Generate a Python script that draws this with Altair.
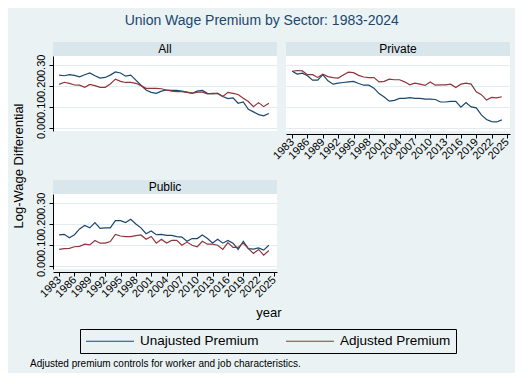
import altair as alt
import pandas as pd

years = list(range(1983, 2025))
sectors = ["All", "Private", "Public"]
series_names = ["Unajusted Premium", "Adjusted Premium"]

all_unadj = [0.251, 0.248, 0.253, 0.250, 0.243, 0.253, 0.261, 0.248, 0.237, 0.240,
             0.251, 0.266, 0.261, 0.246, 0.251, 0.227, 0.203, 0.180, 0.169, 0.164,
             0.175, 0.180, 0.178, 0.178, 0.175, 0.170, 0.165, 0.175, 0.178, 0.164,
             0.162, 0.164, 0.149, 0.139, 0.143, 0.117, 0.123, 0.088, 0.076, 0.063,
             0.057, 0.068]
all_adj = [0.207, 0.217, 0.212, 0.204, 0.203, 0.193, 0.207, 0.201, 0.193, 0.193,
           0.209, 0.232, 0.221, 0.216, 0.216, 0.212, 0.201, 0.188, 0.188, 0.188,
           0.186, 0.180, 0.175, 0.172, 0.172, 0.169, 0.164, 0.170, 0.170, 0.162,
           0.164, 0.164, 0.149, 0.169, 0.164, 0.159, 0.141, 0.125, 0.101, 0.120,
           0.101, 0.117]
priv_unadj = [0.269, 0.256, 0.260, 0.248, 0.227, 0.227, 0.253, 0.224, 0.208, 0.213,
              0.216, 0.219, 0.221, 0.211, 0.203, 0.203, 0.189, 0.163, 0.147, 0.127,
              0.131, 0.140, 0.140, 0.144, 0.140, 0.140, 0.137, 0.137, 0.135, 0.123,
              0.123, 0.126, 0.126, 0.098, 0.120, 0.100, 0.095, 0.062, 0.040, 0.030,
              0.028, 0.038]
priv_adj = [0.269, 0.273, 0.271, 0.253, 0.253, 0.240, 0.255, 0.244, 0.239, 0.237,
            0.252, 0.265, 0.263, 0.250, 0.242, 0.239, 0.239, 0.219, 0.221, 0.232,
            0.229, 0.229, 0.219, 0.205, 0.213, 0.208, 0.202, 0.218, 0.203, 0.205,
            0.205, 0.208, 0.192, 0.208, 0.213, 0.208, 0.172, 0.158, 0.132, 0.145,
            0.143, 0.148]
pub_unadj = [0.147, 0.150, 0.134, 0.148, 0.176, 0.192, 0.181, 0.206, 0.178, 0.181,
             0.181, 0.215, 0.215, 0.206, 0.222, 0.199, 0.181, 0.153, 0.166, 0.148,
             0.150, 0.145, 0.145, 0.139, 0.137, 0.117, 0.130, 0.130, 0.147, 0.130,
             0.109, 0.127, 0.108, 0.121, 0.108, 0.078, 0.117, 0.082, 0.080, 0.085,
             0.075, 0.098]
pub_adj = [0.078, 0.082, 0.083, 0.091, 0.093, 0.103, 0.100, 0.121, 0.108, 0.108,
           0.116, 0.150, 0.142, 0.139, 0.139, 0.144, 0.147, 0.127, 0.140, 0.108,
           0.127, 0.109, 0.121, 0.121, 0.098, 0.113, 0.098, 0.091, 0.117, 0.103,
           0.103, 0.098, 0.078, 0.111, 0.088, 0.088, 0.108, 0.082, 0.059, 0.078,
           0.051, 0.073]

x_ticks = list(range(1983, 2026, 3))
y_ticks = [0.0, 0.1, 0.2, 0.3]
title_text = "Union Wage Premium by Sector: 1983-2024"
x_title = "year"
y_title = "Log-Wage Differential"
note_text = "Adjusted premium controls for worker and job characteristics."

records = []
for sector, unadj, adj in zip(sectors, [all_unadj, priv_unadj, pub_unadj],
                              [all_adj, priv_adj, pub_adj]):
    for name, vals in zip(series_names, [unadj, adj]):
        for yr, v in zip(years, vals):
            records.append({"sector": sector, "year": yr, "series": name, "value": v})
df = pd.DataFrame(records)

BLUE = "#1A476F"
RED = "#90353B"
BG = "#EAF2F3"
STRIP = "#D9E6EB"
GRID = "#E3ECEE"
FONT = "Liberation Sans"
W, H = 224, 75
XDOM = [1981.8, 2025.6]
YDOM = [-0.015, 0.342]

color = alt.Color(
    "series:N",
    scale=alt.Scale(domain=series_names, range=[BLUE, RED]),
    legend=alt.Legend(
        title=None, orient="none", legendX=27, legendY=273, direction="horizontal",
        symbolType="M0,0H8", symbolSize=144, symbolStrokeWidth=1.2, symbolOffset=-6,
        labelFontSize=13.5, labelFont=FONT, labelColor="black", labelOffset=47,
        columnPadding=24, padding=5, strokeColor="black",
    ),
)


def panel(sector, show_x, show_y, extras=()):
    data = df[df.sector == sector]
    if show_x:
        x_axis = alt.Axis(values=x_ticks, format="d", labelAngle=315, labelAlign="right",
                          labelBaseline="middle", labelFontSize=11, labelFont=FONT,
                          labelColor="black", labelPadding=2, labelOverlap=False,
                          labelFlush=False, tickSize=4, tickColor="black",
                          domainColor="black", grid=False, title=None, offset=3)
    else:
        x_axis = None
    if show_y:
        y_axis = alt.Axis(values=y_ticks, format=".2f", labelAngle=270, labelAlign="center",
                          labelBaseline="bottom", labelFontSize=11, labelFont=FONT,
                          labelColor="black", labelOverlap=False, labelFlush=False,
                          labelPadding=3, tickSize=4, tickColor="black",
                          domainColor="black", grid=True, gridColor=GRID, title=None)
    else:
        y_axis = alt.Axis(values=y_ticks, labels=False, ticks=False, domain=False,
                          grid=True, gridColor=GRID, title=None)
    lines = alt.Chart(data).mark_line(strokeWidth=1.2).encode(
        x=alt.X("year:Q", scale=alt.Scale(domain=XDOM, nice=False, zero=False), axis=x_axis),
        y=alt.Y("value:Q", scale=alt.Scale(domain=YDOM, nice=False, zero=False), axis=y_axis),
        color=color,
    )
    lab = pd.DataFrame({"label": [sector]})
    strip = alt.Chart(lab).mark_rect(fill=STRIP).encode(
        x=alt.value(0), x2=alt.value(W), y=alt.value(-14), y2=alt.value(0))
    strip_text = alt.Chart(lab).mark_text(fontSize=12, font=FONT, color="black",
                                          baseline="middle").encode(
        x=alt.value(W / 2), y=alt.value(-7), text="label:N")
    return alt.layer(strip, strip_text, lines, *extras).properties(width=W, height=H)


one = pd.DataFrame({"k": [0]})
year_lbl = alt.Chart(one).mark_text(fontSize=13, font=FONT, color="black",
                                    baseline="middle").encode(
    x=alt.value(216), y=alt.value(119), text=alt.value(x_title))
ytitle_lbl = alt.Chart(one).mark_text(fontSize=13, font=FONT, color="black",
                                      baseline="middle", angle=270).encode(
    x=alt.value(-34), y=alt.value(-28), text=alt.value(y_title))
note_lbl = alt.Chart(one).mark_text(fontSize=10, font=FONT, color="black",
                                    baseline="middle", align="left").encode(
    x=alt.value(-23), y=alt.value(170), text=alt.value(note_text))

p_all = panel("All", False, True)
p_priv = panel("Private", True, False)
p_pub = panel("Public", True, True, extras=(year_lbl, ytitle_lbl, note_lbl))

chart = alt.concat(p_all, p_priv, p_pub, columns=2,
                   spacing={"row": 63, "column": 9}, bounds="flush").properties(
    title=alt.Title(title_text, fontSize=14, font=FONT, color=BLUE, fontWeight="normal",
                    anchor="middle", offset=14),
    background=BG,
    padding={"left": 4, "top": 6, "right": 4, "bottom": 4},
).configure_view(fill="white", stroke=None)

chart.save("out.html", embed_options={"renderer": "svg", "actions": False})
